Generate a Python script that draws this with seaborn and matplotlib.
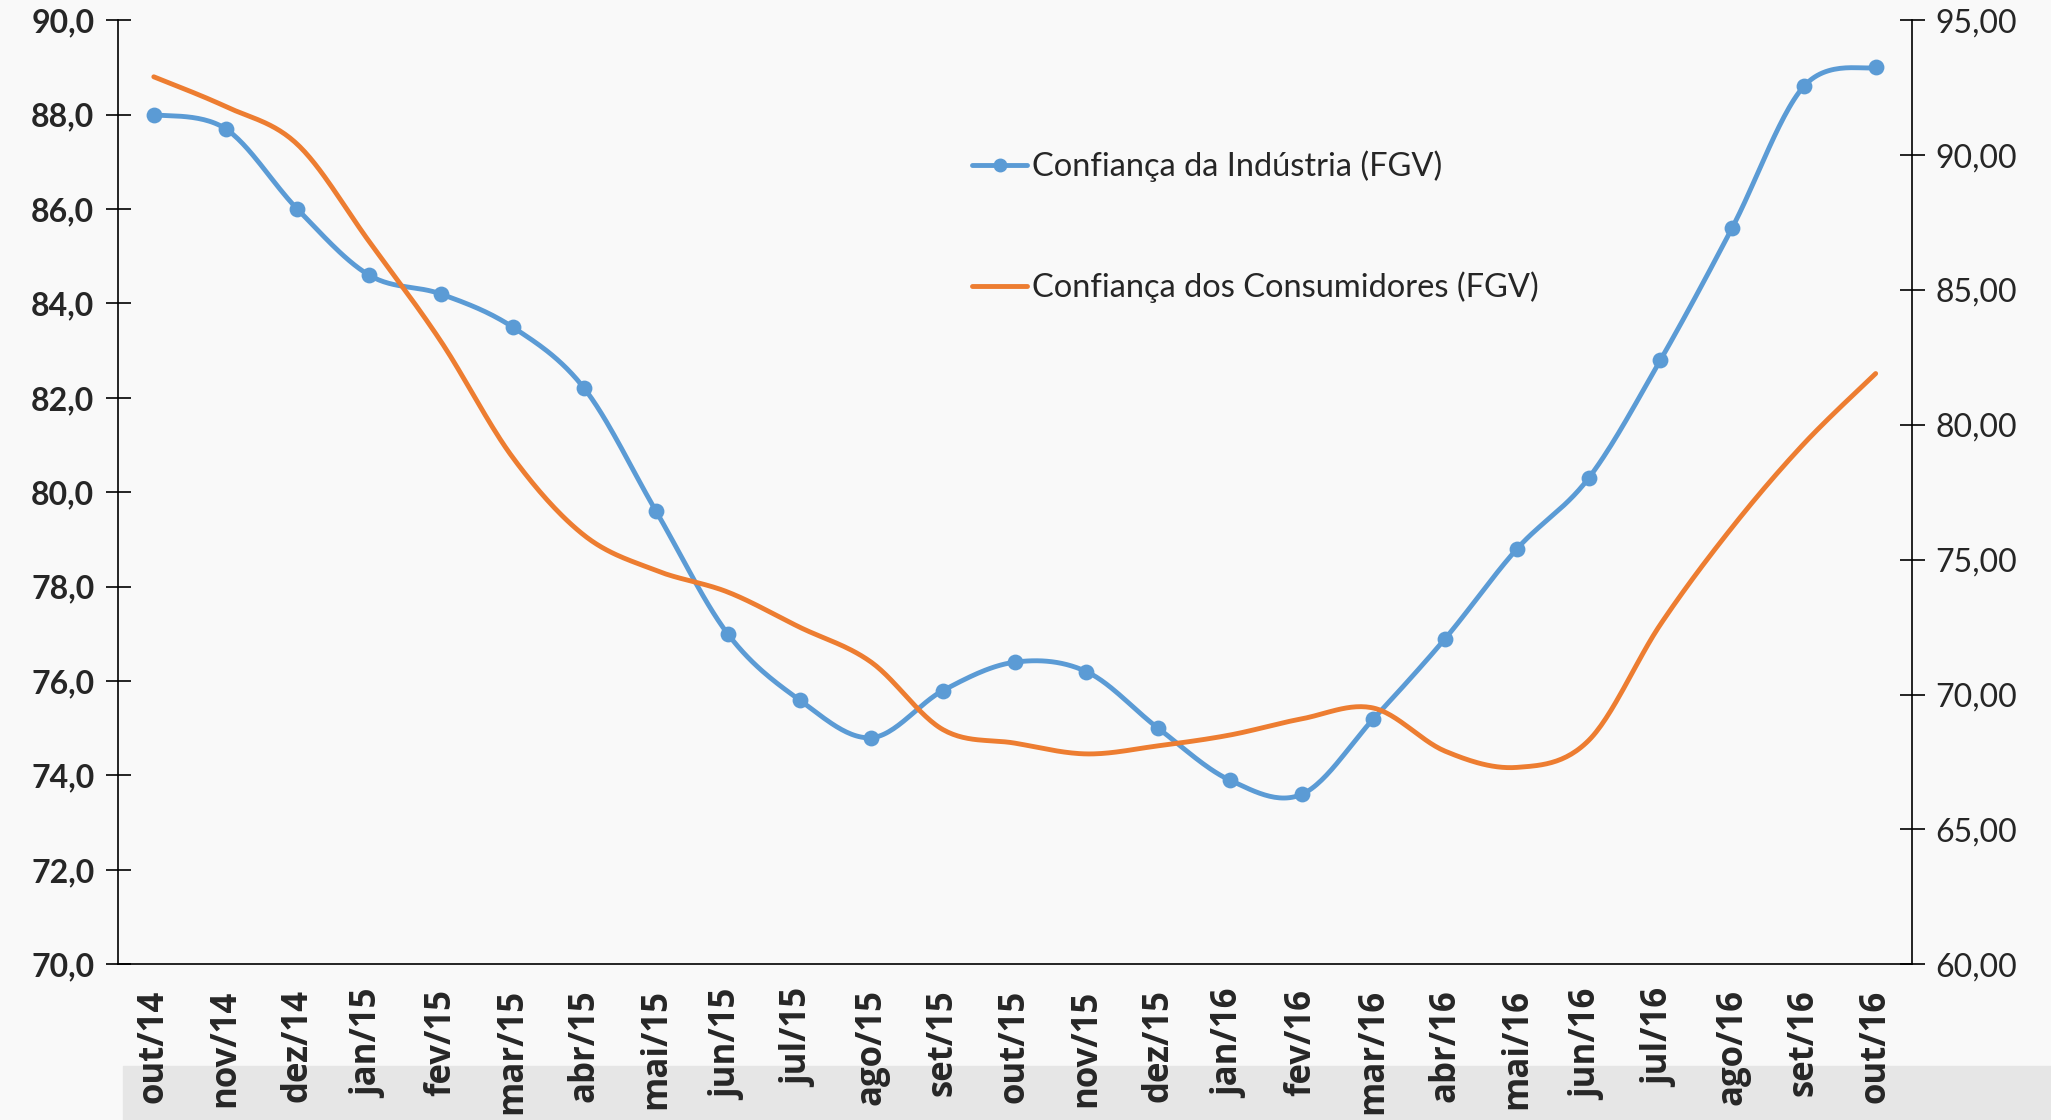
import numpy as np
import pandas as pd
import matplotlib
matplotlib.use("Agg")
import matplotlib.pyplot as plt
import seaborn as sns
from matplotlib.lines import Line2D
from matplotlib.patches import Rectangle
from matplotlib.ticker import FuncFormatter, FixedLocator

# data
months = ["out/14", "nov/14", "dez/14", "jan/15", "fev/15", "mar/15", "abr/15",
          "mai/15", "jun/15", "jul/15", "ago/15", "set/15", "out/15", "nov/15",
          "dez/15", "jan/16", "fev/16", "mar/16", "abr/16", "mai/16", "jun/16",
          "jul/16", "ago/16", "set/16", "out/16"]
industria = [88.0, 87.7, 86.0, 84.6, 84.2, 83.5, 82.2, 79.6, 77.0, 75.6, 74.8,
             75.8, 76.4, 76.2, 75.0, 73.9, 73.6, 75.2, 76.9, 78.8, 80.3, 82.8,
             85.6, 88.6, 89.0]
consumidores = [92.9, 91.8, 90.4, 86.8, 83.1, 78.8, 75.9, 74.6, 73.8, 72.5, 71.2,
                68.7, 68.2, 67.8, 68.1, 68.5, 69.1, 69.5, 67.9, 67.3, 68.3, 72.6,
                76.2, 79.3, 81.9]

lbl_ind = "Confiança da Indústria (FGV)"
lbl_con = "Confiança dos Consumidores (FGV)"
blue = "#5B9BD5"
orange = "#ED7D31"


def smooth(x, y, n=30):
    # Excel-like smoothed line: cubic bezier through every point
    x = np.asarray(x, float)
    y = np.asarray(y, float)
    xp = np.concatenate([[x[0]], x, [x[-1]]])
    yp = np.concatenate([[y[0]], y, [y[-1]]])
    t = np.linspace(0, 1, n)[:, None]
    xs, ys = [], []
    for i in range(len(x) - 1):
        p0 = np.array([xp[i + 1], yp[i + 1]])
        p3 = np.array([xp[i + 2], yp[i + 2]])
        p1 = p0 + (np.array([xp[i + 2], yp[i + 2]]) - np.array([xp[i], yp[i]])) / 6
        p2 = p3 - (np.array([xp[i + 3], yp[i + 3]]) - np.array([xp[i + 1], yp[i + 1]])) / 6
        b = (1 - t) ** 3 * p0 + 3 * (1 - t) ** 2 * t * p1 + 3 * (1 - t) * t ** 2 * p2 + t ** 3 * p3
        xs.append(b[:, 0])
        ys.append(b[:, 1])
    return np.concatenate(xs), np.concatenate(ys)


sns.set_style("white")
plt.rcParams["font.family"] = ["Lato", "DejaVu Sans"]

fig = plt.figure(figsize=(20.51, 11.2), dpi=100, facecolor="#f9f9f9")
fig.patches.append(Rectangle((0.06, 0), 0.94, 0.048, transform=fig.transFigure,
                             color="#e6e6e6", zorder=-5))
ax = fig.add_axes([0.0575, 0.139, 0.8745, 0.843])
ax.set_facecolor("none")
ax2 = ax.twinx()

pos = np.arange(len(months))
df = pd.DataFrame({"pos": pos, "ind": industria, "con": consumidores})

xs, ys = smooth(df["pos"], df["ind"])
sns.lineplot(x=xs, y=ys, sort=False, estimator=None, ax=ax, color=blue, lw=3.5)
sns.scatterplot(data=df, x="pos", y="ind", ax=ax, color=blue, s=130,
                edgecolor=blue, linewidth=0, zorder=3)

xc, yc = smooth(df["pos"], df["con"])
sns.lineplot(x=xc, y=yc, sort=False, estimator=None, ax=ax2, color=orange, lw=3.5)

ax.set_xlim(-0.5, len(months) - 0.5)
ax.set_ylim(70, 90)
ax2.set_ylim(60, 95)
ax.set_yticks(np.arange(70, 90.1, 2))
ax2.set_yticks(np.arange(60, 95.1, 5))
ax.yaxis.set_major_formatter(FuncFormatter(lambda v, p: f"{v:.1f}".replace(".", ",")))
ax2.yaxis.set_major_formatter(FuncFormatter(lambda v, p: f"{v:.2f}".replace(".", ",")))

# category ticks between months, labels centred on months
ax.xaxis.set_major_locator(FixedLocator(np.arange(-0.5, len(months), 1)))
ax.xaxis.set_minor_locator(FixedLocator(pos))
ax.set_xticklabels([])
ax.set_xticklabels(months, minor=True, rotation=90, fontweight="bold",
                   fontsize=25, family=["Open Sans", "DejaVu Sans"])
ax.tick_params(axis="x", which="major", direction="inout", length=26, width=1.2,
               color="black")
ax.tick_params(axis="x", which="minor", length=0, pad=18)
ax.tick_params(axis="y", direction="inout", length=18, width=1.2, labelsize=23,
               pad=8, color="black")
ax2.tick_params(axis="y", direction="inout", length=18, width=1.2, labelsize=23,
                pad=8, color="black")
for t in ax.get_yticklabels():
    t.set_fontweight("bold")

for a in (ax, ax2):
    a.set_xlabel("")
    a.set_ylabel("")
    a.spines["top"].set_visible(False)
    for s in ("left", "right", "bottom"):
        a.spines[s].set_color("black")
        a.spines[s].set_linewidth(1.2)
ax.spines["right"].set_visible(False)
ax2.spines["left"].set_visible(False)
ax2.spines["bottom"].set_visible(False)

handles = [Line2D([], [], color=blue, lw=3.5, marker="o", markersize=9),
           Line2D([], [], color=orange, lw=3.5)]
ax.legend(handles, [lbl_ind, lbl_con], loc="center left",
          bbox_to_anchor=(0.467, 0.781), frameon=False, fontsize=23.5,
          borderpad=0, handlelength=1.7, handletextpad=0.15, labelspacing=2.75)

fig.savefig("out.png", dpi=100, facecolor=fig.get_facecolor())
